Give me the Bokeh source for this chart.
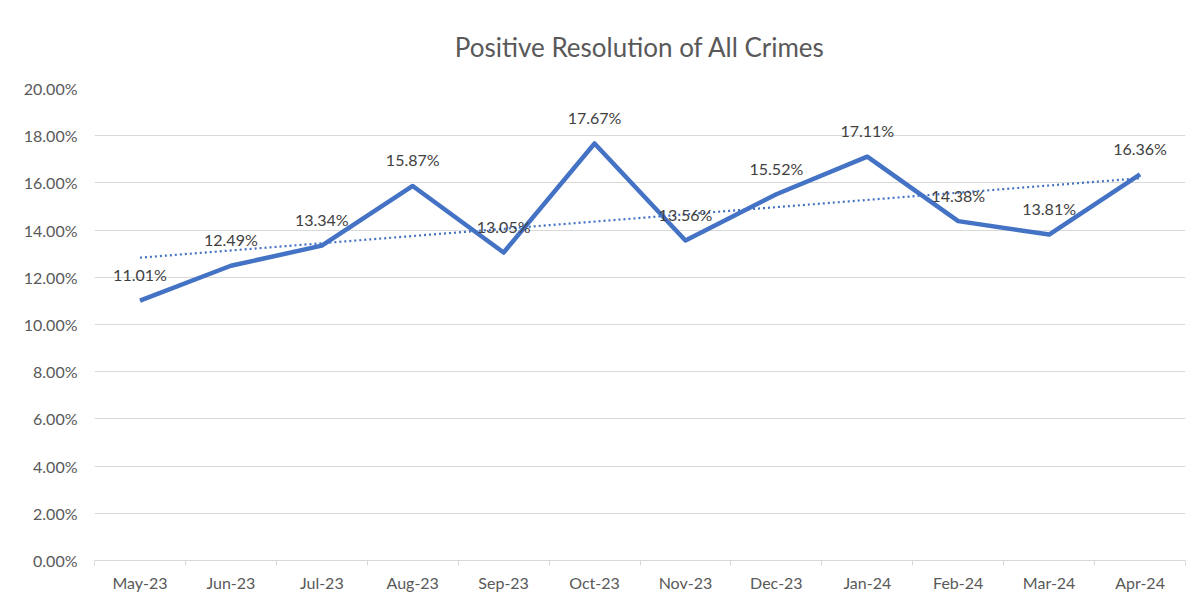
from bokeh.plotting import figure
from bokeh.models import ColumnDataSource, FixedTicker, NumeralTickFormatter, Range1d
from bokeh.embed import file_html
from bokeh.resources import INLINE
from bokeh.core.properties import value
import numpy as np

months = ["May-23", "Jun-23", "Jul-23", "Aug-23", "Sep-23", "Oct-23",
          "Nov-23", "Dec-23", "Jan-24", "Feb-24", "Mar-24", "Apr-24"]
rates = [0.1101, 0.1249, 0.1334, 0.1587, 0.1305, 0.1767,
         0.1356, 0.1552, 0.1711, 0.1438, 0.1381, 0.1636]
y_ticks = [0.0, 0.02, 0.04, 0.06, 0.08, 0.10, 0.12, 0.14, 0.16, 0.18, 0.20]

xs = list(range(1, len(months) + 1))
labels = [f"{v*100:.2f}%" for v in rates]
src = ColumnDataSource(dict(x=xs, y=rates, label=labels))

# linear trend (as Excel's linear trendline)
slope, intercept = np.polyfit(xs, rates, 1)
trend_src = ColumnDataSource(dict(x=[xs[0], xs[-1]],
                                  y=[intercept + slope * xs[0], intercept + slope * xs[-1]]))

FONT = "Lato"

p = figure(width=1189, height=600, output_backend="svg", toolbar_location=None,
           x_range=Range1d(0.5, len(months) + 0.5), y_range=Range1d(0, 0.20),
           min_border_left=94, min_border_right=4, min_border_top=88, min_border_bottom=40)

p.title.text = "Positive Resolution of All Crimes"
p.title.align = "center"
p.title.text_font = FONT
p.title.text_font_size = "26px"
p.title.text_font_style = "normal"
p.title.text_color = "#595959"
p.title.offset = 0
p.title.standoff = 52

p.outline_line_color = None
p.background_fill_color = "white"
p.border_fill_color = "white"

# y axis
p.yaxis.ticker = FixedTicker(ticks=y_ticks)
p.yaxis.formatter = NumeralTickFormatter(format="0.00%")
p.yaxis.axis_line_color = None
p.yaxis.major_tick_line_color = None
p.yaxis.major_tick_out = 0
p.yaxis.major_tick_in = 0
p.yaxis.minor_tick_line_color = None
p.yaxis.major_label_standoff = 17
p.yaxis.major_label_text_font = FONT
p.yaxis.major_label_text_font_size = "16px"
p.yaxis.major_label_text_color = "#595959"

# x axis
p.xaxis.ticker = FixedTicker(ticks=xs, minor_ticks=[i + 0.5 for i in range(0, len(months) + 1)])
p.xaxis.major_label_overrides = {i: m for i, m in zip(xs, months)}
p.xaxis.axis_line_color = "#d9d9d9"
p.xaxis.axis_line_width = 1
p.xaxis.major_tick_line_color = None
p.xaxis.major_tick_out = 0
p.xaxis.major_tick_in = 0
p.xaxis.minor_tick_line_color = "#d9d9d9"
p.xaxis.minor_tick_out = 5
p.xaxis.minor_tick_in = 0
p.xaxis.major_label_standoff = 7
p.xaxis.major_label_text_font = FONT
p.xaxis.major_label_text_font_size = "16px"
p.xaxis.major_label_text_color = "#595959"

p.xgrid.grid_line_color = None
p.ygrid.grid_line_color = "#d9d9d9"
p.ygrid.grid_line_width = 1

p.line("x", "y", source=src, line_color="#4472C4", line_width=4.5, line_join="round")
p.line("x", "y", source=trend_src, line_color="#4472C4", line_width=2.2, line_dash="2 3")

p.text("x", "y", text="label", source=src, text_align="center", text_baseline="middle",
       y_offset=-26, text_font=value(FONT), text_font_size="16px", text_color="#404040")

open("out.html", "w").write(file_html(p, INLINE))
